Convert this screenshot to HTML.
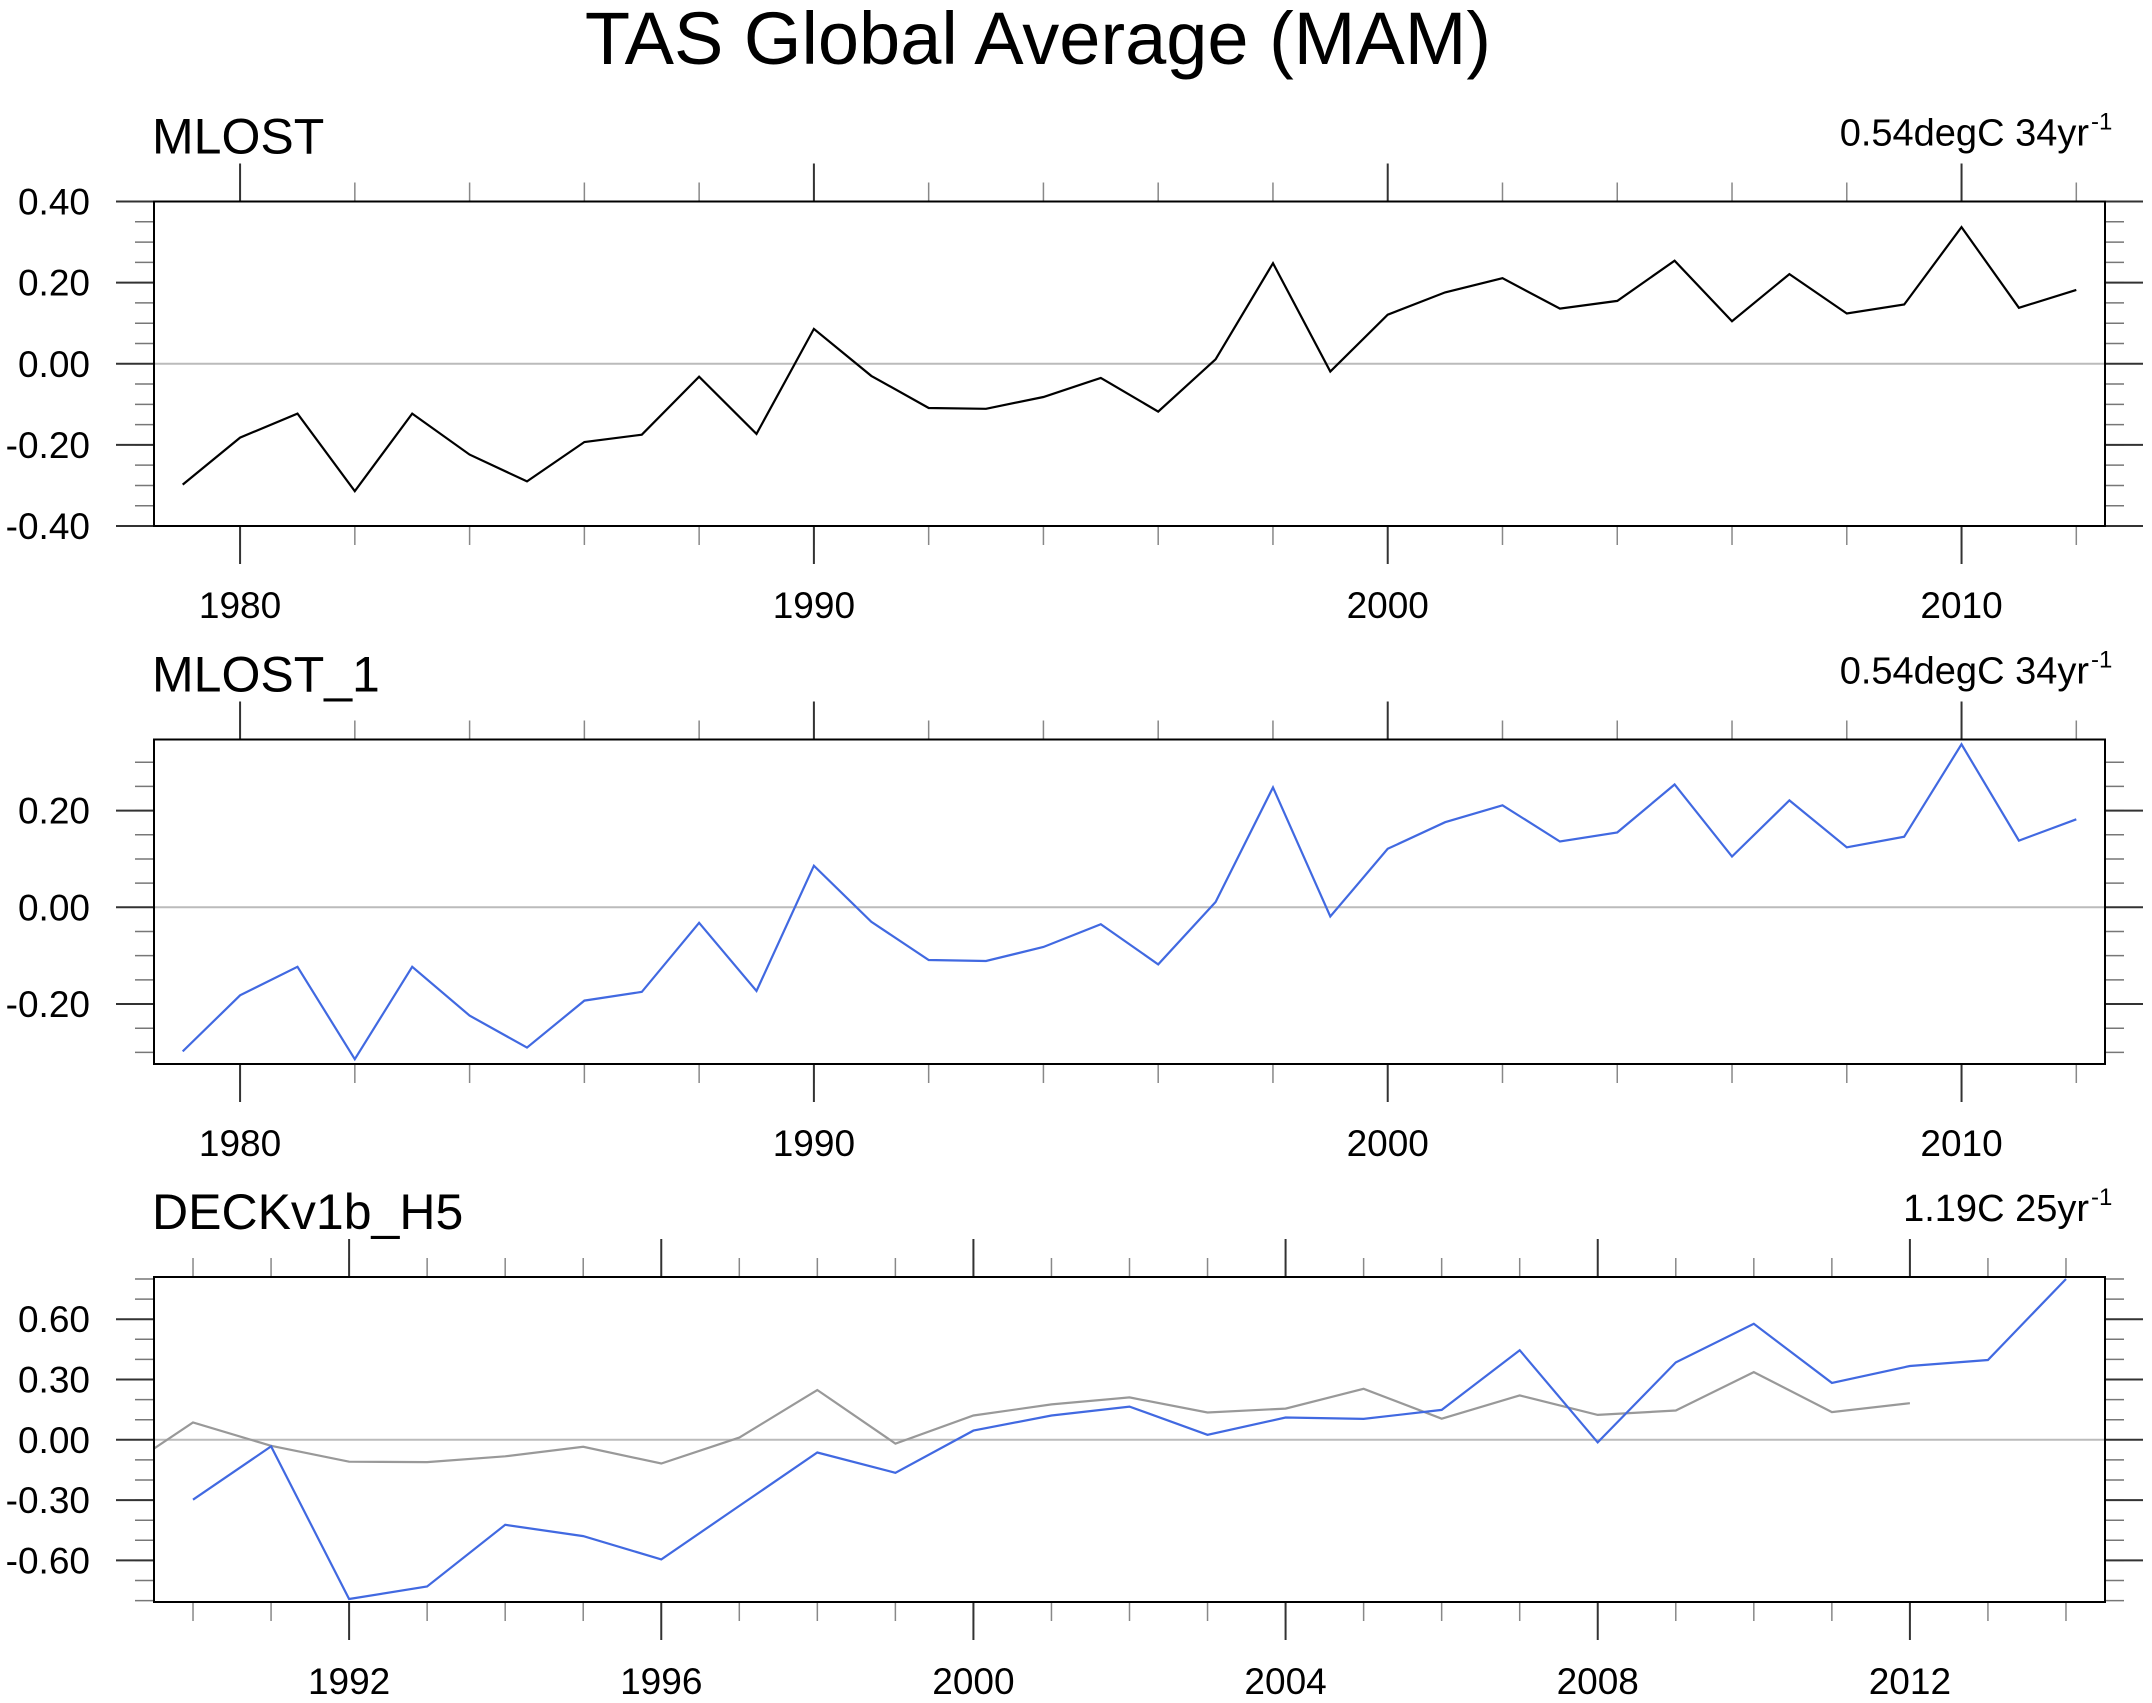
<!DOCTYPE html>
<html><head><meta charset="utf-8"><style>
html,body{margin:0;padding:0;background:#fff;}
svg{display:block;font-family:"Liberation Sans",Arial,sans-serif;}
</style></head><body>
<svg id="chart" width="2152" height="1703" viewBox="0 0 2152 1703" xmlns="http://www.w3.org/2000/svg">
<text x="1038" y="64" font-size="74" text-anchor="middle">TAS Global Average (MAM)</text>
<g id="p1"></g>
<g id="p2"></g>
<g id="p3"></g>
</svg>
<script>
const mlostYears = [1979,1980,1981,1982,1983,1984,1985,1986,1987,1988,1989,1990,1991,1992,1993,1994,1995,1996,1997,1998,1999,2000,2001,2002,2003,2004,2005,2006,2007,2008,2009,2010,2011,2012];
const mlostValues = [-0.298,-0.182,-0.123,-0.314,-0.123,-0.224,-0.290,-0.193,-0.175,-0.032,-0.173,0.086,-0.030,-0.109,-0.111,-0.082,-0.035,-0.118,0.011,0.248,-0.019,0.121,0.176,0.211,0.136,0.155,0.254,0.105,0.221,0.124,0.146,0.337,0.138,0.182];
const deckYears = [1990,1991,1992,1993,1994,1995,1996,1997,1998,1999,2000,2001,2002,2003,2004,2005,2006,2007,2008,2009,2010,2011,2012,2013,2014];
const deckValues = [-0.298,-0.033,-0.792,-0.730,-0.423,-0.479,-0.595,-0.329,-0.063,-0.164,0.046,0.121,0.165,0.025,0.111,0.104,0.149,0.446,-0.013,0.385,0.577,0.283,0.367,0.397,0.800];
const p1YTicks = [-0.4,-0.2,0,0.2,0.4];
const p1YLabels = ["-0.40","-0.20","0.00","0.20","0.40"];
const p2YTicks = [-0.2,0,0.2];
const p2YLabels = ["-0.20","0.00","0.20"];
const p3YTicks = [-0.6,-0.3,0,0.3,0.6];
const p3YLabels = ["-0.60","-0.30","0.00","0.30","0.60"];
const p12XTicks = [1980,1990,2000,2010];
const p3XTicks = [1992,1996,2000,2004,2008,2012];

const NS="http://www.w3.org/2000/svg";
function mk(parent,tag,attrs){const e=document.createElementNS(NS,tag);for(const k in attrs)e.setAttribute(k,attrs[k]);parent.appendChild(e);return e;}
const L=154,R=2105;

function panel(gid,top,bot,xmin,xmax,ymin,ymax,yMajor,yLabels,yMinorStep,yMinorFrom,yMinorTo,xMajor,xMinorStep,xMinorFrom,xMinorTo,title,right,series){
  const g=document.getElementById(gid);
  const xs=v=>L+(v-xmin)/(xmax-xmin)*(R-L);
  const ys=v=>bot-(v-ymin)/(ymax-ymin)*(bot-top);
  const t=mk(g,'text',{x:152,y:top-48,'font-size':50});t.textContent=title;
  
  
  const rt=mk(g,'text',{x:2089,y:top-56,'font-size':38,'text-anchor':'end'});rt.textContent=right;
  
  
  const sup=mk(g,'text',{x:2091,y:top-72,'font-size':24});sup.textContent='-1';
  
  
  for(let v=yMinorFrom;v<=yMinorTo+1e-9;v+=yMinorStep){
    const y=ys(v);
    mk(g,'line',{x1:L-19,x2:L,y1:y,y2:y,stroke:'#777','stroke-width':1.5});
    mk(g,'line',{x1:R,x2:R+19,y1:y,y2:y,stroke:'#777','stroke-width':1.5});
  }
  yMajor.forEach((v,i)=>{
    const y=ys(v);
    mk(g,'line',{x1:L-38,x2:L,y1:y,y2:y,stroke:'#333','stroke-width':2});
    mk(g,'line',{x1:R,x2:R+38,y1:y,y2:y,stroke:'#333','stroke-width':2});
    const tx=mk(g,'text',{x:90,y:y+13,'font-size':37,'text-anchor':'end'});tx.textContent=yLabels[i];
    
    
  });
  for(let v=xMinorFrom;v<=xMinorTo+1e-9;v+=xMinorStep){
    const x=xs(v);
    mk(g,'line',{x1:x,x2:x,y1:top-19,y2:top,stroke:'#888','stroke-width':1.5});
    mk(g,'line',{x1:x,x2:x,y1:bot,y2:bot+19,stroke:'#888','stroke-width':1.5});
  }
  xMajor.forEach(v=>{
    const x=xs(v);
    mk(g,'line',{x1:x,x2:x,y1:top-38,y2:top,stroke:'#333','stroke-width':2});
    mk(g,'line',{x1:x,x2:x,y1:bot,y2:bot+38,stroke:'#333','stroke-width':2});
    const tx=mk(g,'text',{x:x,y:bot+92,'font-size':37,'text-anchor':'middle'});tx.textContent=String(v);
    
    
  });
  mk(g,'line',{x1:L,x2:R,y1:ys(0),y2:ys(0),stroke:'#bbb','stroke-width':2});
  const cid='clip'+gid;
  const cp=mk(g,'clipPath',{id:cid});mk(cp,'rect',{x:L,y:top,width:R-L,height:bot-top});
  series.forEach(s=>{
    const pts=s.years.map((yr,i)=>xs(yr).toFixed(1)+','+ys(s.vals[i]).toFixed(1)).join(' ');
    const pl=mk(g,'polyline',{points:pts,fill:'none',stroke:s.color,'stroke-width':2.2,'stroke-linejoin':'miter','clip-path':'url(#'+cid+')'});
    
    
  });
  const fr=mk(g,'rect',{x:L,y:top,width:R-L,height:bot-top,fill:'none',stroke:'#000','stroke-width':2});
  
  
}
panel('p1',201.5,526,1978.5,2012.5,-0.4,0.4,p1YTicks,p1YLabels,0.05,-0.4,0.4,p12XTicks,2,1980,2012,'MLOST','0.54degC 34yr',
  [{years:mlostYears,vals:mlostValues,color:'#000',name:'mlost-line'}]);
panel('p2',739.5,1064,1978.5,2012.5,-0.324,0.347,p2YTicks,p2YLabels,0.05,-0.3,0.3,p12XTicks,2,1980,2012,'MLOST_1','0.54degC 34yr',
  [{years:mlostYears,vals:mlostValues,color:'#4169e1',name:'mlost-1-line'}]);
panel('p3',1277,1602,1989.5,2014.5,-0.807,0.81,p3YTicks,p3YLabels,0.1,-0.8,0.8,p3XTicks,1,1990,2014,'DECKv1b_H5','1.19C 25yr',
  [{years:mlostYears,vals:mlostValues,color:'#999',name:'mlost-reference-line'},{years:deckYears,vals:deckValues,color:'#4169e1',name:'deck-line'}]);
</script>
</body></html>
